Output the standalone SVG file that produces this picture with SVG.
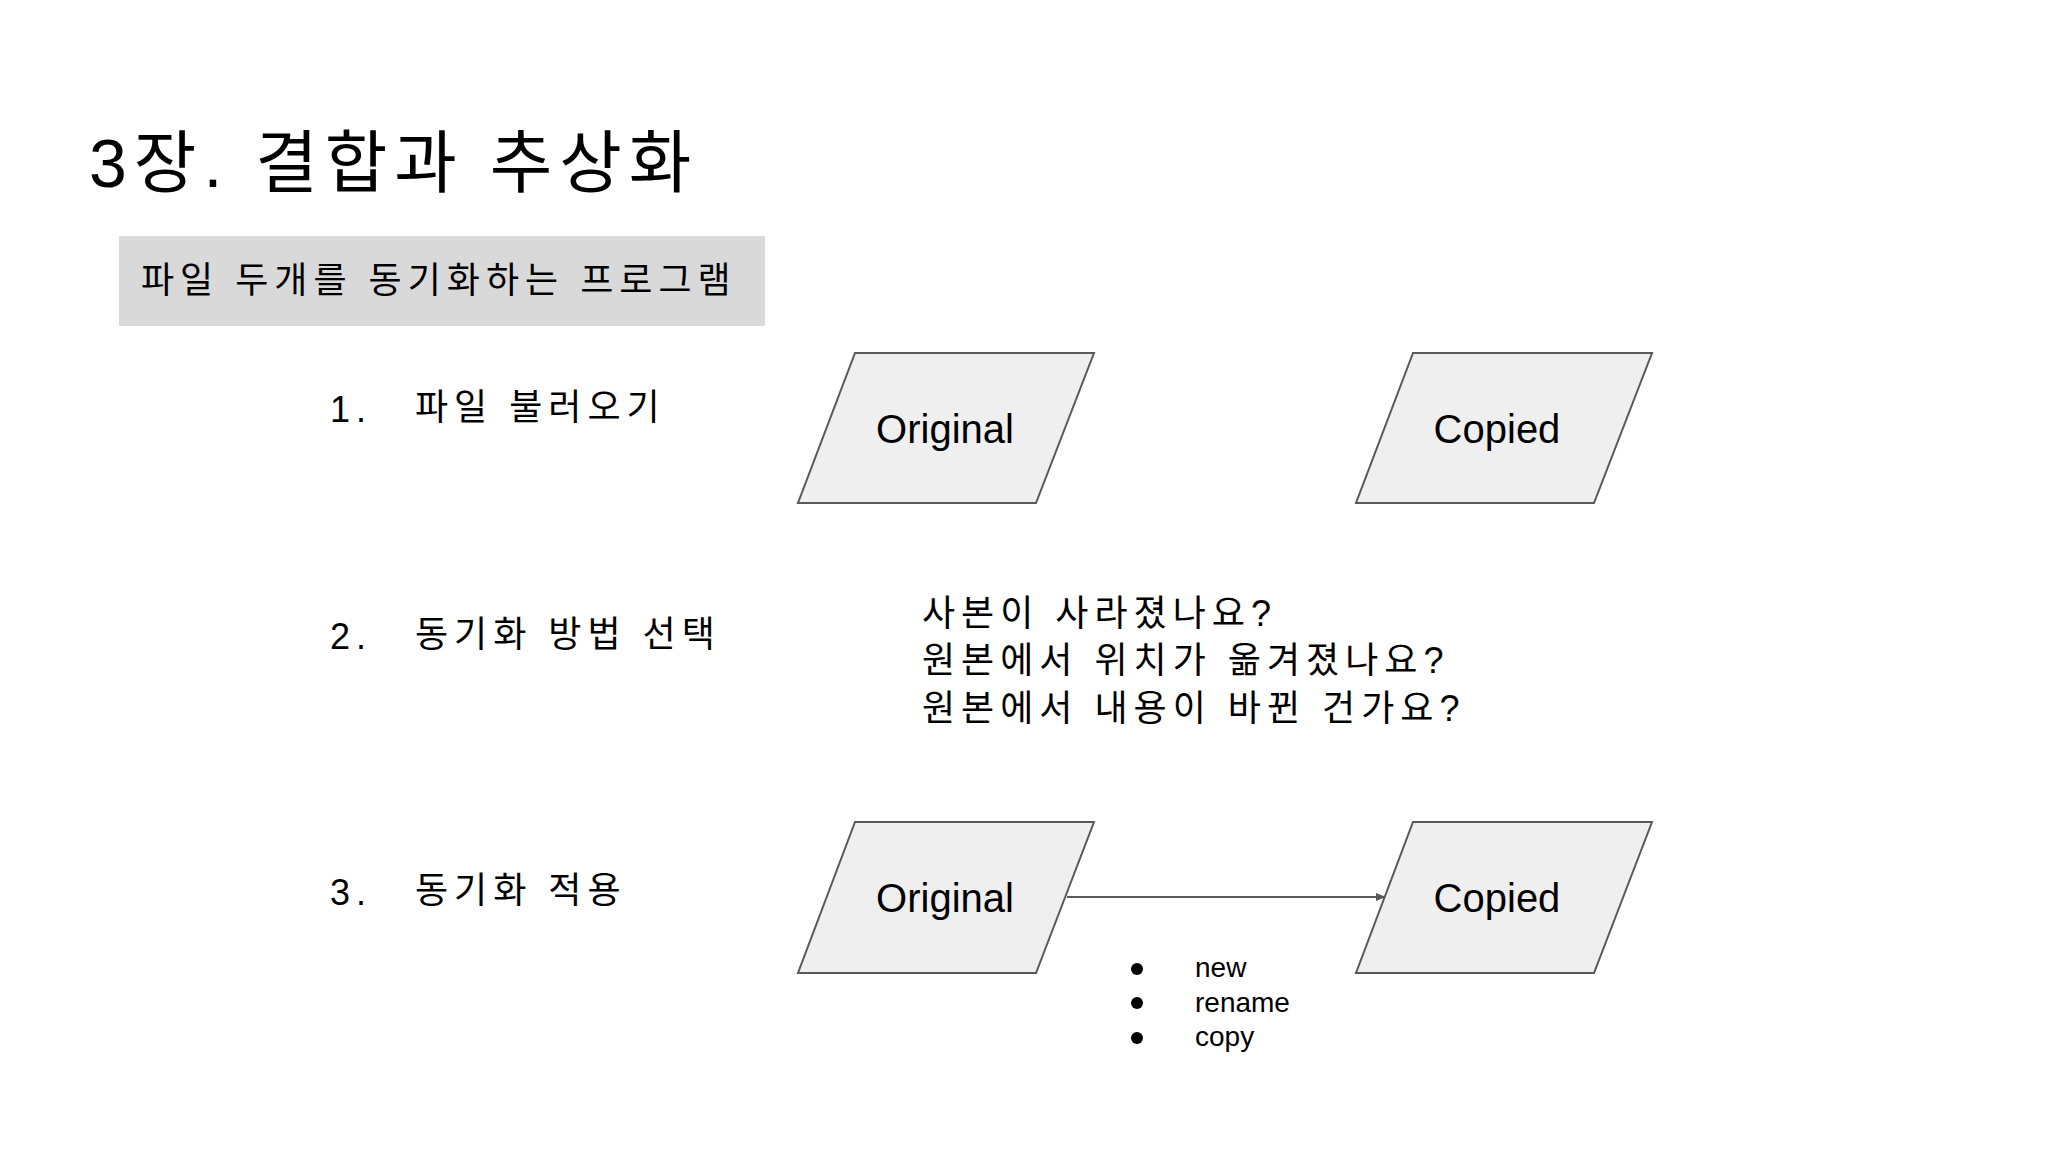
<svg xmlns="http://www.w3.org/2000/svg" width="2048" height="1152" viewBox="0 0 2048 1152">
<style>
text{font-family:"Liberation Sans","Noto Sans CJK KR",sans-serif;fill:#000}
.k{font-size:36px;letter-spacing:6px}
.n{font-size:40px;text-anchor:middle}
.p{fill:#efefef;stroke:#595959;stroke-width:2}
.b{font-size:28px}
</style>
<defs><marker id="ah" markerWidth="10" markerHeight="8" refX="9" refY="4" orient="auto" markerUnits="userSpaceOnUse"><path d="M0,0L10,4L0,8z" fill="#595959"/></marker></defs>
<rect width="2048" height="1152" fill="#fff"/>
<text x="89" y="187" font-size="68" letter-spacing="7">3장. 결합과 추상화</text>
<g id="subtitle"><rect x="119" y="236" width="646" height="90" fill="#d9d9d9"/><text class="k" x="141" y="293">파일 두개를 동기화하는 프로그램</text></g>
<g id="steps">
<text class="k" x="330" y="422" letter-spacing="0">1.</text><text class="k" x="415" y="420">파일 불러오기</text>
<text class="k" x="330" y="649" letter-spacing="0">2.</text><text class="k" x="415" y="647">동기화 방법 선택</text>
<text class="k" x="330" y="905" letter-spacing="0">3.</text><text class="k" x="415" y="903">동기화 적용</text>
</g>
<g id="questions"><text class="k" x="922" y="626">사본이 사라졌나요?</text><text class="k" x="922" y="673">원본에서 위치가 옮겨졌나요?</text><text class="k" x="922" y="721">원본에서 내용이 바뀐 건가요?</text></g>
<g id="original1"><polygon class="p" points="855,353 1094,353 1036,503 798,503"/><text class="n" x="945" y="443">Original</text></g>
<g id="copied1"><polygon class="p" points="1413,353 1652,353 1594,503 1356,503"/><text class="n" x="1497" y="443">Copied</text></g>
<g id="original2"><polygon class="p" points="855,822 1094,822 1036,973 798,973"/><text class="n" x="945" y="912">Original</text></g>
<g id="copied2"><polygon class="p" points="1413,822 1652,822 1594,973 1356,973"/><text class="n" x="1497" y="912">Copied</text></g>
<g id="connectors"><line x1="1067" y1="897" x2="1385" y2="897" stroke="#595959" stroke-width="2" marker-end="url(#ah)"/></g>
<g id="bullets"><circle cx="1137" cy="969" r="6"/><circle cx="1137" cy="1003" r="6"/><circle cx="1137" cy="1038" r="6"/>
<text class="b" x="1195" y="977">new</text><text class="b" x="1195" y="1012">rename</text><text class="b" x="1195" y="1046">copy</text></g>
</svg>
